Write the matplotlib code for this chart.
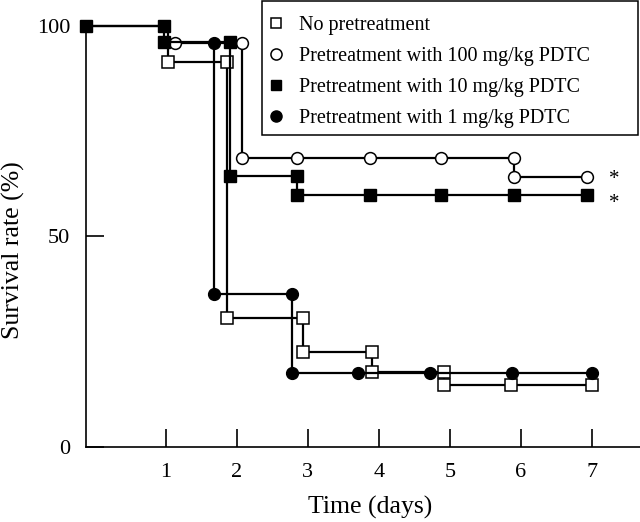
import matplotlib
matplotlib.use("Agg")
import matplotlib.pyplot as plt
from matplotlib.lines import Line2D
from matplotlib.patches import Rectangle

plt.rcParams['font.family'] = ['Liberation Serif', 'DejaVu Serif']

# ---- data (time in days, survival in %) ----
t_none = [-0.12, 1.03, 1.03, 1.86, 1.86, 2.93, 2.93, 3.90, 3.90, 4.92, 4.92, 5.86, 7.00]
v_none = [100, 100, 91.4, 91.4, 30.5, 30.5, 22.4, 22.4, 17.6, 17.6, 14.6, 14.6, 14.6]

t_100 = [1.13, 2.07, 2.07, 2.85, 3.87, 4.88, 5.90, 5.90, 6.93]
v_100 = [96.0, 96.0, 68.5, 68.5, 68.5, 68.5, 68.5, 64.2, 64.2]

t_10 = [-0.12, 0.97, 0.97, 1.90, 1.90, 2.85, 2.85, 3.87, 4.88, 5.90, 6.93]
v_10 = [100, 100, 96.2, 96.2, 64.3, 64.3, 59.8, 59.8, 59.8, 59.8, 59.8]

t_1 = [1.68, 1.68, 2.78, 2.78, 3.70, 4.72, 5.87, 7.01]
v_1 = [96.0, 36.2, 36.2, 17.4, 17.4, 17.4, 17.4, 17.4]

labels = ["No pretreatment",
          "Pretreatment with 100 mg/kg PDTC",
          "Pretreatment with 10 mg/kg PDTC",
          "Pretreatment with 1 mg/kg PDTC"]

xticks = [1, 2, 3, 4, 5, 6, 7]
yticks = [0, 50, 100]
star_x = 7.31
star_y = [63.6, 57.7]

fig = plt.figure(figsize=(6.4, 5.22), dpi=100)
ax = fig.add_axes([86/640, 1-446.5/522, 1-86/640, (446.5-26)/522])

lw = 1.6
ms_sq = 8
ms_ci = 8.5
ax.plot(t_none, v_none, color='black', lw=lw, marker='s', ms=ms_sq, mfc='white',
        mec='black', mew=1.1, markevery=slice(2, None), clip_on=False, zorder=3)
ax.plot(t_100, v_100, color='black', lw=lw, marker='o', ms=ms_ci, mfc='white',
        mec='black', mew=1.1, clip_on=False, zorder=3)
ax.plot(t_10, v_10, color='black', lw=lw, marker='s', ms=ms_sq, mfc='black',
        mec='black', clip_on=False, zorder=4)
ax.plot(t_1, v_1, color='black', lw=lw, marker='o', ms=ms_ci, mfc='black',
        mec='black', clip_on=False, zorder=4)

for sy in star_y:
    ax.text(star_x, sy, "*", fontsize=15, ha='center', va='center', clip_on=False)

ax.set_xlim(-0.127, 7.68)
ax.set_ylim(0, 100)
ax.set_xticks(xticks)
ax.set_yticks(yticks)
ax.spines['top'].set_visible(False)
ax.spines['right'].set_visible(False)
for s in ('left', 'bottom'):
    ax.spines[s].set_linewidth(1.2)
ax.tick_params(axis='both', direction='in', length=13, width=1.2, labelsize=16)
ax.tick_params(axis='x', pad=12)
ax.tick_params(axis='y', pad=11.5)

fig.text(13/640, 1-250/522, "Survival rate (%)", rotation=90, ha='center', va='center', fontsize=18.5)
fig.text(370/640, 1-507/522, "Time (days)", ha='center', va='center', fontsize=18.5)

handles = [
    Line2D([], [], ls='none', marker='s', ms=7.5, mfc='white', mec='black', mew=1.1),
    Line2D([], [], ls='none', marker='o', ms=8, mfc='white', mec='black', mew=1.1),
    Line2D([], [], ls='none', marker='s', ms=7.5, mfc='black', mec='black'),
    Line2D([], [], ls='none', marker='o', ms=8, mfc='black', mec='black'),
]
leg = fig.legend(handles, labels, loc='upper left', bbox_to_anchor=(268/640, 1-16/522),
                 borderaxespad=0, borderpad=0, fontsize=14.5, frameon=False,
                 handlelength=0.8, handletextpad=0.75, labelspacing=0.59)
fig.add_artist(Rectangle((262/640, 1-135/522), (638-262)/640, (134)/522,
                         transform=fig.transFigure, fill=False, ec='black', lw=1.1))

fig.savefig("out.png", dpi=100)
